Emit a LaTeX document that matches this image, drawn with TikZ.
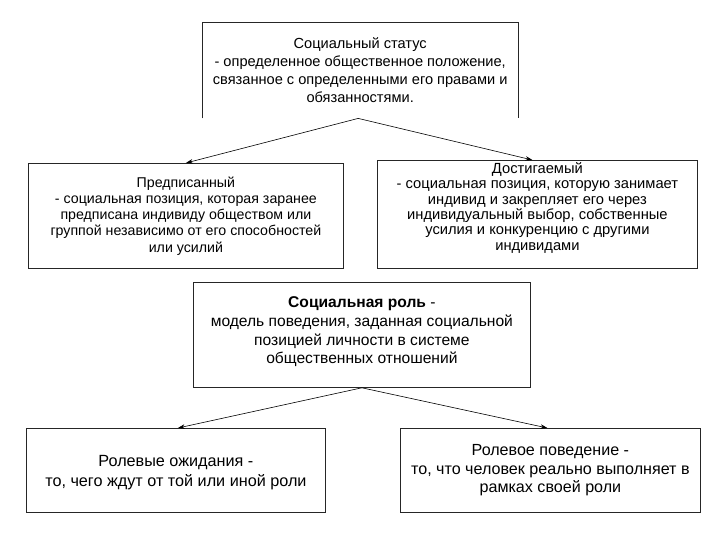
\documentclass[tikz,border=0pt]{standalone}
\usepackage{fontspec}
\setmainfont{Liberation Sans}
\usetikzlibrary{arrows.meta}
\begin{document}
\begin{tikzpicture}[x=1pt,y=-1pt,
  boxed/.style={draw=black!85, line width=0.8pt, align=center, inner sep=0pt, anchor=north west},
  conn/.style={line width=0.6pt, -{Stealth[length=7pt,width=4.5pt]}},
  fA/.style={font=\fontsize{14.6}{18.3}\selectfont},
  fB/.style={font=\fontsize{14.2}{16.3}\selectfont},
  fC/.style={font=\fontsize{14.7}{15.4}\selectfont},
  fD/.style={font=\fontsize{15.6}{18.8}\selectfont},
  fE/.style={font=\fontsize{16.2}{20}\selectfont},
  fF/.style={font=\fontsize{16.1}{18.5}\selectfont}]
\useasboundingbox[fill=white] (0,0) rectangle (720,540);
% top box (open at the bottom)
\node[fA, align=center, inner sep=0pt, anchor=north west, minimum width=316pt, minimum height=96pt] (status) at (202,22)
  {Социальный статус\\- определенное общественное положение,\\связанное с определенными его правами и\\обязанностями.};
\draw[draw=black!85, line width=0.8pt] (status.south west) -- (status.north west) -- (status.north east) -- (status.south east);
\coordinate (apex1) at ([xshift=-2pt]status.south);
% second row
\node[boxed, fB, minimum width=315pt, minimum height=105pt] (pred) at (28,163)
  {Предписанный\\- социальная позиция, которая заранее\\предписана индивиду обществом или\\группой независимо от его способностей\\или усилий};
\node[boxed, minimum width=320pt, minimum height=108pt] (dost) at (377,160) {};
\node[fC, align=center, inner sep=0pt] (dosttext) at ([yshift=6.5pt]dost.center)
  {Достигаемый\\- социальная позиция, которую занимает\\индивид и закрепляет его через\\индивидуальный выбор, собственные\\усилия и конкуренцию с другими\\индивидами};
% middle box
\node[boxed, minimum width=337pt, minimum height=105pt] (role) at (193,282) {};
\node[fD, align=center, inner sep=0pt] (roletext) at ([yshift=3pt]role.center)
  {\textbf{Социальная роль} -\\модель поведения, заданная социальной\\позицией личности в системе\\общественных отношений};
% bottom row
\node[boxed, minimum width=299pt, minimum height=84pt] (expect) at (26,428) {};
\node[fE, align=center, inner sep=0pt] (expecttext) at ([yshift=-2pt]expect.center)
  {Ролевые ожидания -\\то, чего ждут от той или иной роли};
\node[boxed, fF, minimum width=300pt, minimum height=84pt] (behav) at (400,428)
  {Ролевое поведение -\\то, что человек реально выполняет в\\рамках своей роли};
% connectors
\draw[conn] (apex1) -- (pred.north);
\draw[conn] (apex1) -- ([xshift=-5pt]dost.north);
\draw[conn] (role.south) -- ([xshift=2pt]expect.north);
\draw[conn] (role.south) -- ([xshift=-3pt]behav.north);
\end{tikzpicture}
\end{document}
